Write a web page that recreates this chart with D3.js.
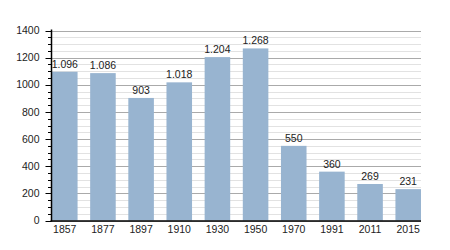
<!doctype html>
<html lang="en">
<head>
  <meta charset="utf-8">
  <title>Population</title>
  <style>
    * { margin: 0; padding: 0; box-sizing: border-box; }
    body { background: #fff; }
    svg { font-family: "Liberation Sans", Arial, sans-serif; }
  </style>
</head>
<body>
  <div id="container"></div>
  <script src="https://cdn.jsdelivr.net/npm/d3@7"></script>
  <script>
    const years = ['1857','1877','1897','1910','1930','1950','1970','1991','2011','2015'];
    const population = [1096, 1086, 903, 1018, 1204, 1268, 550, 360, 269, 231];
    const yTicks = [0, 200, 400, 600, 800, 1000, 1200, 1400];

    const W = 450, H = 250;
    const m = {left: 51.5, right: 29, top: 30.5, bottom: 29.5};

    const svg = d3.select('#container').append('svg')
      .attr('width', W)
      .attr('height', H);

    const x = d3.scaleBand()
      .domain(years)
      .range([m.left + 0.5, W - m.right])
      .paddingInner(0.33)
      .paddingOuter(0);

    const y = d3.scaleLinear()
      .domain([0, 1400])
      .range([H - m.bottom, m.top]);

    // de-style number format: 1.096
    const fmt = d3.formatLocale({decimal: ',', thousands: '.', grouping: [3], currency: ['', '€']}).format(',d');

    const minor = d3.range(0, 1401, 50);

    // grid
    svg.append('g').selectAll('line').data(minor).join('line')
      .attr('x1', m.left).attr('x2', W - m.right)
      .attr('y1', d => Math.round(y(d)) + 0.5).attr('y2', d => Math.round(y(d)) + 0.5)
      .attr('stroke', d => d % 200 === 0 ? '#aaaaaa' : '#e2e2e2')
      .attr('stroke-width', 1);

    // bars
    svg.append('g').selectAll('rect').data(population).join('rect')
      .attr('x', (d, i) => x(years[i]))
      .attr('y', d => y(d))
      .attr('width', x.bandwidth())
      .attr('height', d => y(0) - y(d))
      .attr('fill', '#98b4d0');

    // value labels
    svg.append('g').selectAll('text').data(population).join('text')
      .attr('x', (d, i) => x(years[i]) + x.bandwidth() / 2)
      .attr('y', d => y(d) - 4)
      .attr('text-anchor', 'middle')
      .attr('font-size', 10.5)
      .attr('fill', '#222')
      .text(d => fmt(d));

    // y axis with minor ticks
    const yAxis = svg.append('g').attr('transform', `translate(${m.left},0)`);
    yAxis.append('g').selectAll('line').data(minor).join('line')
      .attr('x1', d => d % 200 === 0 ? -6 : -3.5).attr('x2', 0)
      .attr('y1', d => Math.round(y(d)) + 0.5).attr('y2', d => Math.round(y(d)) + 0.5)
      .attr('stroke', '#000');
    yAxis.append('line')
      .attr('x1', 0).attr('x2', 0)
      .attr('y1', y(1400) - 1).attr('y2', y(0) + 1)
      .attr('stroke', '#000').attr('stroke-width', 1.5);
    yAxis.append('g').selectAll('text').data(yTicks).join('text')
      .attr('x', -12)
      .attr('y', d => y(d))
      .attr('dy', '0.35em')
      .attr('text-anchor', 'end')
      .attr('font-size', 10.5)
      .attr('fill', '#222')
      .text(d => d);

    // x axis
    svg.append('line')
      .attr('x1', m.left - 1).attr('x2', W - m.right)
      .attr('y1', y(0) + 0.5).attr('y2', y(0) + 0.5)
      .attr('stroke', '#000').attr('stroke-width', 1.5);
    svg.append('g').selectAll('text').data(years).join('text')
      .attr('x', d => x(d) + x.bandwidth() / 2)
      .attr('y', y(0) + 12.5)
      .attr('text-anchor', 'middle')
      .attr('font-size', 10.5)
      .attr('fill', '#222')
      .text(d => d);
  </script>
</body>
</html>
